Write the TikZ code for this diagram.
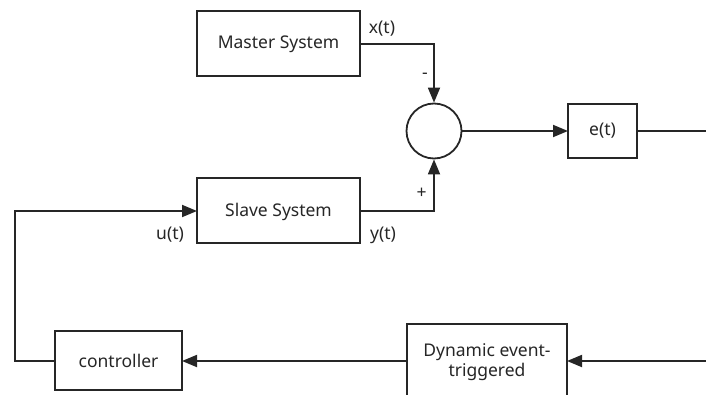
\documentclass[tikz,border=0pt]{standalone}
\usepackage{fontspec}
\setmainfont{Noto Sans}
\usetikzlibrary{arrows.meta}
\begin{document}
\begin{tikzpicture}[x=1pt,y=-1pt,
  lbl/.style={inner sep=0pt,font=\fontsize{17.5}{20.5}\selectfont,text=black!85},
  wire/.style={draw=black!85,line width=1.8pt},
  arr/.style={wire,-{Triangle[length=15pt,width=12pt]}}]
\useasboundingbox (0,0) rectangle (706,395);
\clip (0,0) rectangle (706,395);
% boxes
\draw[wire] (197,11) rectangle (360,76);
\node[lbl] (master) at (278.5,44) {Master System};
\coordinate (masterR) at (360,44);
\draw[wire] (197,178) rectangle (360,243);
\node[lbl] (slave) at (278.5,211.5) {Slave System};
\coordinate (slaveR) at (360,211);
\coordinate (slaveL) at (197,211);
\node[draw=black!85,line width=1.8pt,circle,minimum size=55pt,inner sep=0pt] (sum) at (434,131) {};
\draw[wire] (568,104) rectangle (637,158);
\node[lbl] (e) at (602.5,131) {e(t)};
\coordinate (eL) at (568,131);
\coordinate (eR) at (637,131);
\coordinate (eEnd) at (706,131);
\draw[wire] (55,331) rectangle (182,390);
\node[lbl] (ctrl) at (118.5,360.5) {controller};
\coordinate (ctrlL) at (55,361);
\coordinate (ctrlR) at (182,361);
\draw[wire] (407,324) rectangle (567,420);
\node[lbl,align=center] (det) at (487,362) {Dynamic event-\\triggered};
\coordinate (detL) at (407,361);
\coordinate (detR) at (567,361);
\coordinate (detEnd) at (706,361);
\coordinate (left) at (15,211);
% connectors
\draw[arr] (masterR) -| (sum.north);
\draw[arr] (slaveR) -| (sum.south);
\draw[arr] (sum.east) -- (eL);
\draw[wire] (eR) -- (eEnd);
\draw[arr] (detEnd) -- (detR);
\draw[arr] (detL) -- (ctrlR);
\draw[arr] (ctrlL) -- (15,361) -- (left) -- (slaveL);
% labels
\node[lbl] (xt) at (382,29) {x(t)};
\node[lbl] (minus) at (425,76) {-};
\node[lbl] (plus) at (421.5,193) {+};
\node[lbl] (yt) at (383,235) {y(t)};
\node[lbl] (ut) at (170,235) {u(t)};
\end{tikzpicture}
\end{document}
